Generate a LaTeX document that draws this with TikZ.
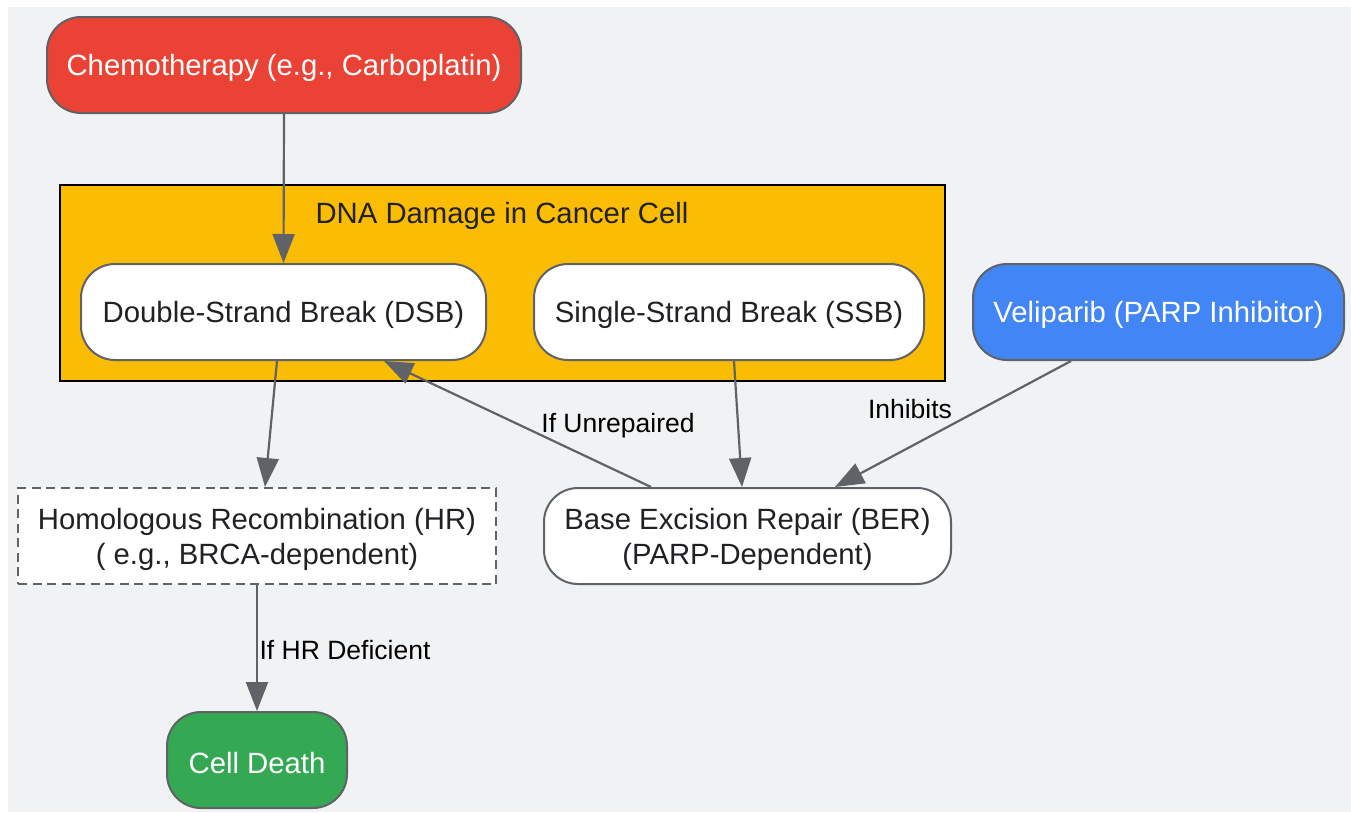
\documentclass[tikz,border=0pt]{standalone}
\usepackage{fontspec}
\setmainfont{Liberation Sans}
\usetikzlibrary{arrows.meta}
\definecolor{bgc}{HTML}{F1F2F4}
\definecolor{redc}{HTML}{EA4335}
\definecolor{yelc}{HTML}{FBBC04}
\definecolor{bluec}{HTML}{4285F4}
\definecolor{greenc}{HTML}{34A853}
\definecolor{strk}{HTML}{5F6368}
\definecolor{txt}{HTML}{202124}
\newcommand{\topstrut}{\rule{0pt}{27pt}}
\tikzset{
  box/.style={draw=strk, line width=2pt, rounded corners=34pt, minimum height=96pt, inner sep=0pt, align=center,
    font=\fontsize{29.3}{35}\selectfont, text=txt, fill=white},
  hrbox/.style={box, rounded corners=0pt, dashed, dash pattern=on 9pt off 5.5pt},
  lbl/.style={font=\fontsize{26.5}{30}\selectfont, text=black, inner sep=0pt},
  edge/.style={draw=strk, line width=2.2pt, -{Triangle[length=29pt,width=22pt]}},
}
\begin{document}
\begin{tikzpicture}[x=1pt,y=-1pt]
\useasboundingbox (0,0) rectangle (1351,812);
\fill[white] (0,0) rectangle (1351,812);
\fill[bgc] (8,7) rectangle (1351,812);
% cluster
\draw[fill=yelc, draw=black, line width=2.5pt] (60,185) rectangle (945,381);
\node[text=txt, font=\fontsize{29.3}{35}\selectfont] (clbl) at (502,216) {DNA Damage in Cancer Cell};
% nodes
\node[box, fill=redc, text=white, minimum width=474pt] (chemo) at (284,65) {\topstrut Chemotherapy (e.g., Carboplatin)};
\node[box, minimum width=405pt] (dsb) at (283.5,312) {\topstrut Double-Strand Break (DSB)};
\node[box, minimum width=390pt] (ssb) at (729,312) {\topstrut Single-Strand Break (SSB)};
\node[box, fill=bluec, text=white, minimum width=371pt] (veli) at (1158.5,312) {\topstrut Veliparib (PARP Inhibitor)};
\node[hrbox, minimum width=478pt] (hr) at (257,536) {\rule{0pt}{28pt}Homologous Recombination (HR)\\( e.g., BRCA-dependent)};
\node[box, minimum width=407pt] (ber) at (747.5,536) {\rule{0pt}{28pt}Base Excision Repair (BER)\\(PARP-Dependent)};
\node[box, fill=greenc, text=white, minimum width=180pt] (death) at (257,760) {\topstrut Cell Death};
% edges
\draw[edge] (chemo.south) -- (dsb.north);
\draw[edge] ([xshift=-6.5pt]dsb.south) -- ([xshift=8pt]hr.north);
\draw[edge] ([xshift=5pt]ssb.south) -- ([xshift=-5.5pt]ber.north);
\draw[edge] ([xshift=-87.5pt]veli.south) -- ([xshift=87.5pt]ber.north);
\draw[edge] ([xshift=-96.5pt]ber.north) -- ([xshift=100.5pt]dsb.south);
\draw[edge] (hr.south) -- (death.north);
% labels
\node[lbl] (l1) at (910,409) {Inhibits};
\node[lbl] (l2) at (618,426) {If Unrepaired};
\node[lbl] (l3) at (345,650) {If HR Deficient};
\end{tikzpicture}
\end{document}
